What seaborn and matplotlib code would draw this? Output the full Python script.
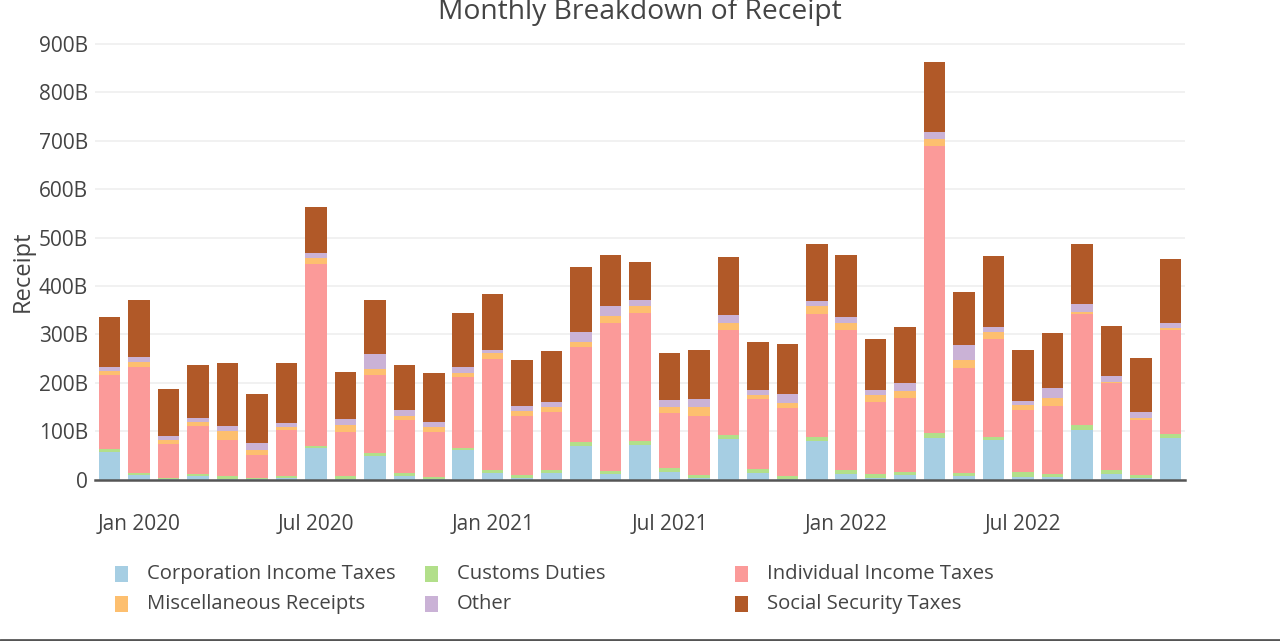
import matplotlib
matplotlib.use("Agg")
import matplotlib.pyplot as plt
import seaborn as sns
import numpy as np
import pandas as pd
from matplotlib.patches import Rectangle
from matplotlib.lines import Line2D

# -----------------------------
# Data (billions of USD), Dec 2019 - Dec 2022
# -----------------------------
months = pd.date_range("2019-12-01", "2022-12-01", freq="MS").strftime("%Y-%m").tolist()

corporation = [56, 9, 1, 7, 2, 1, 4, 65, 2, 48, 8, 1, 61,
               14, 4, 14, 70, 12, 71, 16, 4, 83, 14, 2, 80,
               11, 4, 9, 86, 7, 81, 5, 5, 103, 12, 4, 86]
customs = [7, 5, 3, 5, 5, 2, 4, 5, 5, 6, 6, 5, 5,
           5, 5, 5, 8, 6, 8, 7, 5, 9, 7, 5, 8,
           8, 7, 7, 10, 7, 7, 10, 7, 9, 7, 5, 8]
individual = [154, 218, 70, 99, 74, 48, 94, 375, 92, 162, 109, 93, 145,
              231, 123, 121, 196, 306, 266, 114, 122, 216, 145, 140, 254,
              291, 150, 152, 594, 217, 202, 128, 140, 230, 180, 114, 216]
misc = [8, 10, 7, 8, 20, 11, 7, 12, 13, 12, 9, 10, 10,
        11, 10, 10, 11, 14, 14, 12, 18, 15, 9, 12, 17,
        13, 14, 14, 13, 15, 14, 10, 16, 5, 3, 5, 4]
other = [7, 12, 9, 9, 10, 14, 7, 12, 14, 31, 11, 10, 12,
         7, 10, 11, 19, 21, 12, 15, 18, 18, 11, 17, 10,
         12, 10, 18, 15, 32, 11, 10, 22, 15, 12, 12, 9]
social = [103, 117, 98, 108, 130, 100, 124, 95, 97, 113, 93, 102, 112,
          115, 95, 105, 135, 104, 78, 98, 100, 118, 98, 105, 117,
          129, 105, 116, 145, 110, 146, 105, 112, 125, 104, 112, 132]

series_names = ["Corporation Income Taxes", "Customs Duties", "Individual Income Taxes",
                "Miscellaneous Receipts", "Other", "Social Security Taxes"]
series_values = [corporation, customs, individual, misc, other, social]
colors = ["#a6cee3", "#b2df8a", "#fb9a99", "#fdbf6f", "#cab2d6", "#b15928"]

tick_months = ["2020-01", "2020-07", "2021-01", "2021-07", "2022-01", "2022-07"]
tick_labels = ["Jan 2020", "Jul 2020", "Jan 2021", "Jul 2021", "Jan 2022", "Jul 2022"]
y_ticks = [0, 100, 200, 300, 400, 500, 600, 700, 800, 900]

# -----------------------------
# Style
# -----------------------------
sns.set_theme(style="white")
plt.rcParams["font.family"] = ["Open Sans", "DejaVu Sans"]
TEXT = "#444444"

W, H = 1280, 641
fig = plt.figure(figsize=(W / 100, H / 100), dpi=100)
ax = fig.add_axes([95 / W, 1 - 479.5 / H, 1090 / W, (479.5 - 39.2) / H])

# stacked bars: draw cumulative totals from the top layer down
df = pd.DataFrame({"month": months})
cum = np.zeros(len(months))
cums = []
for vals in series_values:
    cum = cum + np.array(vals)
    cums.append(cum.copy())

for name, color, total in reversed(list(zip(series_names, colors, cums))):
    df["total"] = total
    sns.barplot(data=df, x="month", y="total", order=months, color=color,
                saturation=1, width=0.73, linewidth=0, edgecolor="none",
                ax=ax, zorder=2)

ax.set_xlim(-0.5, len(months) - 0.5)
ax.set_ylim(0, 910)

ax.set_yticks(y_ticks)
ax.set_yticklabels(["0"] + [f"{v}B" for v in y_ticks[1:]])
ax.set_xticks([months.index(m) for m in tick_months])
ax.set_xticklabels(tick_labels)
ax.tick_params(axis="both", length=0, labelsize=15, colors=TEXT)
ax.tick_params(axis="y", pad=5)
ax.tick_params(axis="x", pad=25)

ax.grid(axis="y", color="#efefef", linewidth=1.2, zorder=0)
ax.set_axisbelow(True)
for side in ["top", "right", "left"]:
    ax.spines[side].set_visible(False)
ax.spines["bottom"].set_color("#555555")
ax.spines["bottom"].set_linewidth(1.8)
ax.spines["bottom"].set_zorder(5)

ax.set_xlabel("")
ax.set_ylabel("")
fig.text(23 / W, 1 - 271 / H, "Receipt", rotation=90, ha="center", va="center",
         fontsize=17, color=TEXT)
fig.text(0.5, 1 - 19 / H, "Monthly Breakdown of Receipt", ha="center", va="baseline",
         fontsize=20.3, color=TEXT)

# -----------------------------
# Legend (3 columns, plotly style)
# -----------------------------
for k, (name, color) in enumerate(zip(series_names, colors)):
    col, row = k % 3, k // 3
    x0 = 115 + col * 310
    yc = 574 + row * 30
    fig.patches.append(Rectangle((x0 / W, 1 - (yc + 8) / H), 13 / W, 16 / H,
                                 transform=fig.transFigure, facecolor=color,
                                 edgecolor="none"))
    fig.text((x0 + 32) / W, 1 - yc / H, name, ha="left", va="center",
             fontsize=14.6, color=TEXT)

# screenshot border line at the bottom
fig.add_artist(Line2D([0, 1], [1.5 / H, 1.5 / H], transform=fig.transFigure,
                      color="#555555", linewidth=2))

fig.savefig("out.png", dpi=100)
